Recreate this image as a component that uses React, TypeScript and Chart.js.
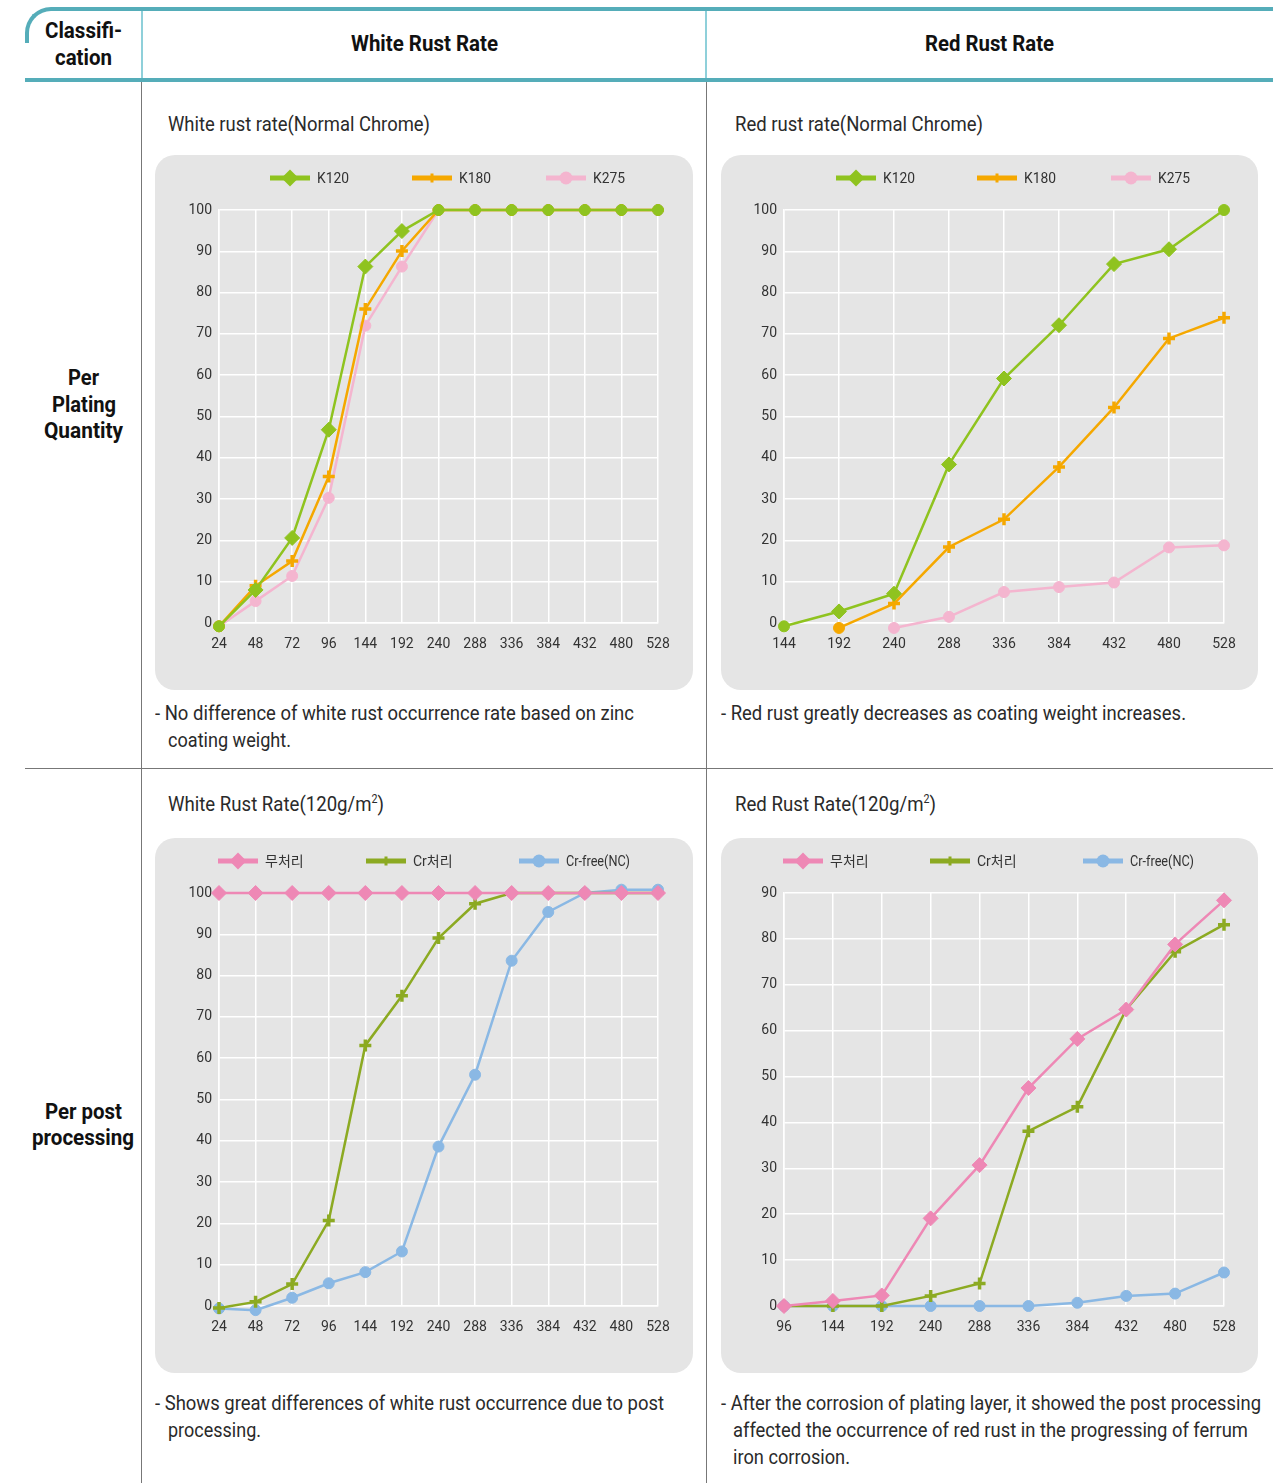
import React, { useEffect, useLayoutEffect, useRef } from 'react';
import { Chart, registerables } from 'chart.js';

Chart.register(...registerables);

const FONT = "Roboto, 'Noto Sans CJK KR', 'Noto Sans', sans-serif";

// ---- categories (hours) ----
const whiteHours = ['24', '48', '72', '96', '144', '192', '240', '288', '336', '384', '432', '480', '528'];
const redHoursPlating = ['144', '192', '240', '288', '336', '384', '432', '480', '528'];
const redHoursPost = ['96', '144', '192', '240', '288', '336', '384', '432', '480', '528'];

// ---- White rust rate (Normal Chrome) ----
const k120White = [-0.8, 8, 20.6, 46.8, 86.3, 94.9, 100, 100, 100, 100, 100, 100, 100];
const k180White = [-0.8, 9, 15, 35.5, 76, 90.1, 100, 100, 100, 100, 100, 100, 100];
const k275White = [-0.8, 5.3, 11.4, 30.3, 72, 86.3, 100, 100, 100, 100, 100, 100, 100];

// ---- Red rust rate (Normal Chrome) ----
const k120Red = [-0.8, 2.8, 7.1, 38.4, 59.2, 72.1, 86.9, 90.5, 100];
const k180Red = [null, -1.2, 4.7, 18.4, 25.1, 37.8, 52.2, 68.9, 73.9];
const k275Red = [null, null, -1.2, 1.5, 7.5, 8.7, 9.8, 18.3, 18.8];

// ---- White Rust Rate (120g/m2) ----
const noneWhite = [100, 100, 100, 100, 100, 100, 100, 100, 100, 100, 100, 100, 100];
const crWhite = [-0.5, 1.0, 5.3, 20.7, 63.1, 75.1, 89.1, 97.4, 100, 100, 100, 100, 100];
const crFreeWhite = [-0.6, -1.0, 2.0, 5.5, 8.2, 13.2, 38.6, 56.0, 83.6, 95.4, 100, 100.8, 100.8];

// ---- Red Rust Rate (120g/m2) ----
const noneRed = [0, 1.1, 2.3, 19.1, 30.7, 47.5, 58.2, 64.6, 78.8, 88.4];
const crRed = [0, 0, 0, 2.2, 4.9, 38.1, 43.4, 64.6, 77.2, 83.1];
const crFreeRed = [0, 0, 0, 0, 0, 0, 0.7, 2.2, 2.7, 7.3];

// ---- marker shapes per point ----
const D = 'rectRot';
const P = 'cross';
const C = 'circle';
const k120WhiteMarks = [C, D, D, D, D, D, C, C, C, C, C, C, C];
const k180WhiteMarks = [C, P, P, P, P, P, P, P, P, P, P, P, P];
const k275WhiteMarks = Array(13).fill(C);
const k120RedMarks = [C, D, D, D, D, D, D, D, C];
const k180RedMarks = [C, C, P, P, P, P, P, P, P];
const k275RedMarks = Array(9).fill(C);

const GREEN = '#8fc31f';
const ORANGE = '#f5a800';
const LPINK = '#f4b5cf';
const PINK = '#ee88b5';
const OLIVE = '#8caa22';
const BLUE = '#8ab8e4';
const TEAL = '#55adb9';

function drawMarker(ctx: CanvasRenderingContext2D, style: string, x: number, y: number, r: number, color: string) {
  ctx.fillStyle = color;
  ctx.strokeStyle = color;
  if (style === 'rectRot') {
    ctx.beginPath();
    ctx.moveTo(x, y - r);
    ctx.lineTo(x + r, y);
    ctx.lineTo(x, y + r);
    ctx.lineTo(x - r, y);
    ctx.closePath();
    ctx.fill();
  } else if (style === 'cross') {
    ctx.lineWidth = 3;
    ctx.beginPath();
    ctx.moveTo(x - r, y);
    ctx.lineTo(x + r, y);
    ctx.moveTo(x, y - r);
    ctx.lineTo(x, y + r);
    ctx.stroke();
  } else {
    ctx.beginPath();
    ctx.arc(x, y, r, 0, Math.PI * 2);
    ctx.fill();
  }
}

const lineLegend = {
  id: 'lineLegend',
  afterDraw(chart: any, _args: any, opts: any) {
    const ctx: CanvasRenderingContext2D = chart.ctx;
    const xs: number[] = opts.xs || [];
    const ws: number[] = opts.ws || [];
    const y: number = opts.y || 22;
    ctx.save();
    chart.data.datasets.forEach((ds: any, i: number) => {
      const x0 = xs[i];
      if (x0 === undefined) return;
      ctx.strokeStyle = ds.borderColor;
      ctx.lineWidth = 5;
      ctx.beginPath();
      ctx.moveTo(x0, y);
      ctx.lineTo(x0 + 40, y);
      ctx.stroke();
      const st = ds.legendStyle;
      const r = st === 'rectRot' ? 8.5 : st === 'cross' ? 4.5 : 6.5;
      drawMarker(ctx, st, x0 + 20, y, r, ds.borderColor);
      ctx.fillStyle = '#333';
      ctx.font = `14px ${FONT}`;
      ctx.textBaseline = 'middle';
      ctx.textAlign = 'left';
      if (ws[i]) ctx.fillText(ds.label, x0 + 47, y + 1, ws[i]);
      else ctx.fillText(ds.label, x0 + 47, y + 1);
    });
    ctx.restore();
  },
};

function series(label: string, data: (number | null)[], color: string, marks: string[], legendStyle: string) {
  return {
    label,
    data,
    borderColor: color,
    backgroundColor: color,
    pointBackgroundColor: color,
    pointBorderColor: color,
    pointStyle: marks,
    pointRadius: marks.map((s) => (s === 'rectRot' ? 7.5 : s === 'cross' ? 6 : 5.5)),
    pointBorderWidth: marks.map((s) => (s === 'cross' ? 3.5 : 1)),
    borderWidth: 2.5,
    tension: 0,
    clip: false as any,
    spanGaps: false,
    legendStyle,
  };
}

type BoxProps = {
  left: number;
  top: number;
  width: number;
  height: number;
  labels: string[];
  datasets: any[];
  yMax: number;
  pad: { top: number; bottom: number; left: number; right: number };
  legendXs: number[];
  legendWs?: number[];
};

function ChartBox(props: BoxProps) {
  const ref = useRef<HTMLCanvasElement | null>(null);
  useEffect(() => {
    if (!ref.current) return;
    const { pad } = props;
    const chart = new Chart(ref.current, {
      type: 'line',
      data: { labels: props.labels, datasets: props.datasets },
      options: {
        responsive: false,
        animation: false,
        devicePixelRatio: 1,
        layout: { padding: { top: pad.top, right: pad.right, left: 0, bottom: 0 } },
        plugins: {
          legend: { display: false },
          tooltip: { enabled: false },
          lineLegend: { xs: props.legendXs, ws: props.legendWs || [], y: 23 },
        } as any,
        scales: {
          x: {
            type: 'category',
            offset: false,
            grid: { color: '#ffffff', lineWidth: 1.5, drawTicks: false, offset: false },
            border: { color: '#ffffff', width: 1.5 },
            ticks: { color: '#333', font: { size: 14, family: FONT }, padding: 13, maxRotation: 0, autoSkip: false },
            afterFit: (s: any) => {
              s.height = pad.bottom;
            },
          },
          y: {
            min: 0,
            max: props.yMax,
            grid: { color: '#ffffff', lineWidth: 1.5, drawTicks: false },
            border: { color: '#ffffff', width: 1.5 },
            ticks: { stepSize: 10, color: '#333', font: { size: 14, family: FONT }, padding: 7 },
            afterFit: (s: any) => {
              s.width = pad.left;
            },
          },
        },
      },
      plugins: [lineLegend],
    });
    return () => chart.destroy();
  }, []);
  return (
    <div
      style={{
        position: 'absolute',
        left: props.left,
        top: props.top,
        width: props.width,
        height: props.height,
        background: '#e5e5e5',
        borderRadius: 20,
        overflow: 'hidden',
      }}
    >
      <canvas ref={ref} width={props.width} height={props.height} style={{ display: 'block' }} />
    </div>
  );
}

// text squeezed horizontally to a target width (the reference uses a condensed face)
function FitText(props: { x: number; y: number; w: number; size: number; bold?: boolean; center?: boolean; children: any }) {
  const ref = useRef<HTMLDivElement | null>(null);
  const lh = 28;
  useLayoutEffect(() => {
    const el = ref.current;
    if (!el) return;
    el.style.transform = 'none';
    const nat = el.getBoundingClientRect().width;
    if (nat > 0) el.style.transform = `scaleX(${props.w / nat})`;
  }, []);
  return (
    <div
      ref={ref}
      style={{
        position: 'absolute',
        left: props.center ? props.x - props.w / 2 : props.x,
        top: props.y - lh / 2,
        display: 'inline-block',
        transformOrigin: 'left center',
        lineHeight: lh + 'px',
        fontSize: props.size,
        fontWeight: props.bold ? 700 : 400,
        fontFamily: FONT,
        color: props.bold ? '#111' : '#2a2a2a',
        whiteSpace: 'nowrap',
      }}
    >
      {props.children}
    </div>
  );
}

export default function App() {
  const pad = { top: 55, bottom: 67, left: 64, right: 35 };
  const pad2 = { top: 55, bottom: 67, left: 63, right: 34 };
  const line = (l: number, t: number, w: number, h: number, c: string) => (
    <div style={{ position: 'absolute', left: l, top: t, width: w, height: h, background: c }} />
  );
  const sup = <sup style={{ fontSize: 12, lineHeight: 0 }}>2</sup>;
  return (
    <div style={{ position: 'absolute', left: 0, top: 0, width: 1288, height: 1483, overflow: 'hidden', background: '#fff' }}>
      {/* header frame */}
      <div
        style={{
          position: 'absolute',
          left: 25,
          top: 7,
          width: 1248,
          height: 36,
          boxSizing: 'border-box',
          borderTop: `4px solid ${TEAL}`,
          borderLeft: `4px solid ${TEAL}`,
          borderTopLeftRadius: 26,
        }}
      />
      {line(25, 78, 1248, 4, TEAL)}
      {line(141, 11, 2, 67, '#8fd0da')}
      {line(705, 11, 2, 67, '#8fd0da')}
      {line(141, 82, 1, 1401, '#777')}
      {line(706, 82, 1, 1401, '#777')}
      {line(25, 768, 1248, 1, '#777')}

      <FitText x={83} y={31} w={77} size={22} bold center>Classifi-</FitText>
      <FitText x={83} y={58} w={57} size={22} bold center>cation</FitText>
      <FitText x={424} y={44} w={147} size={22} bold center>White Rust Rate</FitText>
      <FitText x={989} y={44} w={129} size={22} bold center>Red Rust Rate</FitText>

      <FitText x={83} y={378} w={31} size={22} bold center>Per</FitText>
      <FitText x={84} y={405} w={64} size={22} bold center>Plating</FitText>
      <FitText x={83} y={431} w={79} size={22} bold center>Quantity</FitText>
      <FitText x={83} y={1112} w={77} size={22} bold center>Per post</FitText>
      <FitText x={83} y={1138} w={102} size={22} bold center>processing</FitText>

      <FitText x={168} y={124} w={262} size={21}>White rust rate(Normal Chrome)</FitText>
      <FitText x={735} y={124} w={248} size={21}>Red rust rate(Normal Chrome)</FitText>
      <FitText x={168} y={804} w={216} size={21}>White Rust Rate(120g/m{sup})</FitText>
      <FitText x={735} y={804} w={201} size={21}>Red Rust Rate(120g/m{sup})</FitText>

      <ChartBox
        left={155}
        top={155}
        width={538}
        height={535}
        labels={whiteHours}
        yMax={100}
        pad={pad}
        legendXs={[115, 257, 391]}
        legendWs={[32, 32, 32]}
        datasets={[
          series('K120', k120White, GREEN, k120WhiteMarks, D),
          series('K180', k180White, ORANGE, k180WhiteMarks, P),
          series('K275', k275White, LPINK, k275WhiteMarks, C),
        ]}
      />
      <ChartBox
        left={721}
        top={155}
        width={537}
        height={535}
        labels={redHoursPlating}
        yMax={100}
        pad={pad2}
        legendXs={[115, 256, 390]}
        legendWs={[32, 32, 32]}
        datasets={[
          series('K120', k120Red, GREEN, k120RedMarks, D),
          series('K180', k180Red, ORANGE, k180RedMarks, P),
          series('K275', k275Red, LPINK, k275RedMarks, C),
        ]}
      />
      <ChartBox
        left={155}
        top={838}
        width={538}
        height={535}
        labels={whiteHours}
        yMax={100}
        pad={pad}
        legendXs={[63, 211, 364]}
        legendWs={[40, 40, 64]}
        datasets={[
          series('무처리', noneWhite, PINK, Array(13).fill(D), D),
          series('Cr처리', crWhite, OLIVE, Array(13).fill(P), P),
          series('Cr-free(NC)', crFreeWhite, BLUE, Array(13).fill(C), C),
        ]}
      />
      <ChartBox
        left={721}
        top={838}
        width={537}
        height={535}
        labels={redHoursPost}
        yMax={90}
        pad={pad2}
        legendXs={[62, 209, 362]}
        legendWs={[40, 40, 64]}
        datasets={[
          series('무처리', noneRed, PINK, Array(10).fill(D), D),
          series('Cr처리', crRed, OLIVE, Array(10).fill(P), P),
          series('Cr-free(NC)', crFreeRed, BLUE, Array(10).fill(C), C),
        ]}
      />

      <FitText x={155} y={713} w={479} size={21}>- No difference of white rust occurrence rate based on zinc</FitText>
      <FitText x={168} y={740} w={123} size={21}>coating weight.</FitText>
      <FitText x={721} y={713} w={465} size={21}>- Red rust greatly decreases as coating weight increases.</FitText>
      <FitText x={155} y={1403} w={509} size={21}>- Shows great differences of white rust occurrence due to post</FitText>
      <FitText x={168} y={1430} w={93} size={21}>processing.</FitText>
      <FitText x={721} y={1403} w={540} size={21}>- After the corrosion of plating layer, it showed the post processing</FitText>
      <FitText x={733} y={1430} w={515} size={21}>affected the occurrence of red rust in the progressing of ferrum</FitText>
      <FitText x={733} y={1457} w={117} size={21}>iron corrosion.</FitText>
    </div>
  );
}
